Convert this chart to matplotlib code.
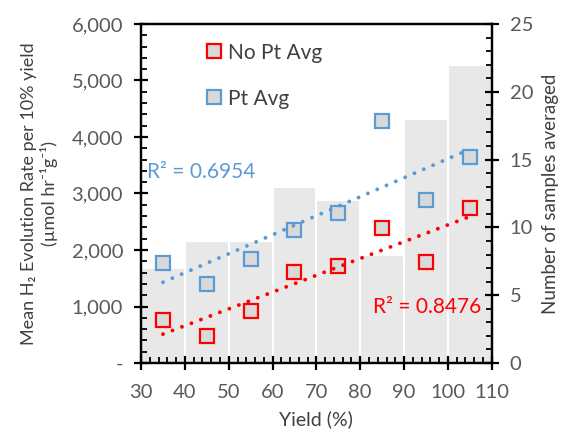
import numpy as np
import matplotlib
matplotlib.use("Agg")
import matplotlib.pyplot as plt
from matplotlib.ticker import MultipleLocator, FuncFormatter

plt.rcParams['font.family'] = ['Lato', 'DejaVu Sans']

# yield bins (centres) and values
yield_pct = [35, 45, 55, 65, 75, 85, 95, 105]
no_pt_avg = [761, 478, 920, 1617, 1717, 2383, 1794, 2749]
pt_avg = [1776, 1392, 1841, 2354, 2661, 4289, 2885, 3652]
n_samples = [7, 9, 9, 13, 12, 8, 18, 22]
r2_no_pt = "R² = 0.8476"
r2_pt = "R² = 0.6954"

red = '#FF0000'
blue = '#5B9BD5'
txt = '#404040'
tick_col = '#595959'

fig = plt.figure(figsize=(5.62, 4.36), dpi=100)
ax = fig.add_axes([0.251, 0.1674, 0.624, 0.7776])
ax2 = ax.twinx()

# bars on the secondary axis
ax2.bar(yield_pct, n_samples, width=10, color='#E8E8E8', edgecolor='white', linewidth=1.5)
ax2.set_ylim(0, 25)
ax.set_zorder(ax2.get_zorder() + 1)
ax.patch.set_visible(False)

x = np.array(yield_pct)
for vals, col, lab in [(no_pt_avg, red, 'No Pt Avg'), (pt_avg, blue, 'Pt Avg')]:
    ax.plot(x, vals, 's', ms=10, mfc='#D9D9D9', mec=col, mew=1.6, label=lab, ls='none')
    k, b = np.polyfit(x, vals, 1)
    xs = np.array([x.min(), x.max()])
    ax.plot(xs, k * xs + b, ls=(0, (0.01, 2.6)), lw=2.8, color=col,
            dash_capstyle='round', solid_capstyle='round')

ax.text(31.3, 3375, r2_pt, color=blue, fontsize=15, va='center', ha='left')
ax.text(107.6, 1000, r2_no_pt, color=red, fontsize=15, va='center', ha='right')

ax.set_xlim(30, 110)
ax.set_ylim(0, 6000)
ax.xaxis.set_major_locator(MultipleLocator(10))
ax.xaxis.set_minor_locator(MultipleLocator(2))
ax.yaxis.set_major_locator(MultipleLocator(1000))
ax.yaxis.set_minor_locator(MultipleLocator(200))
ax2.yaxis.set_major_locator(MultipleLocator(5))
ax2.yaxis.set_minor_locator(MultipleLocator(1))
ax.yaxis.set_major_formatter(FuncFormatter(lambda v, p: '-' if v == 0 else f'{v:,.0f}'))

for a in (ax, ax2):
    for s in a.spines.values():
        s.set_linewidth(1.6)
        s.set_color('black')
    a.tick_params(which='major', direction='inout', length=10, width=1.6, labelsize=14.5,
                  labelcolor=tick_col, color='black')
    a.tick_params(which='minor', direction='in', length=4, width=1.3, color='black')
ax.tick_params(axis='x', which='major', pad=10)
ax.tick_params(axis='y', which='major', pad=8)
ax2.tick_params(axis='y', which='major', pad=8)

ax.set_xlabel('Yield (%)', fontsize=14, color=txt, labelpad=7)
ax.set_ylabel('Mean H₂ Evolution Rate per 10% yield\n(µmol hr⁻¹g⁻¹)',
              fontsize=13, color=txt, labelpad=10, linespacing=1.15)
ax2.set_ylabel('Number of samples averaged', fontsize=13.5, color=txt, labelpad=6)

leg = ax.legend(loc='upper left', bbox_to_anchor=(0.13, 1.0), frameon=False, fontsize=15,
                labelspacing=1.25, handlelength=0.8, handletextpad=0.3, labelcolor=txt,
                numpoints=1)

fig.savefig('out.png', dpi=100)
